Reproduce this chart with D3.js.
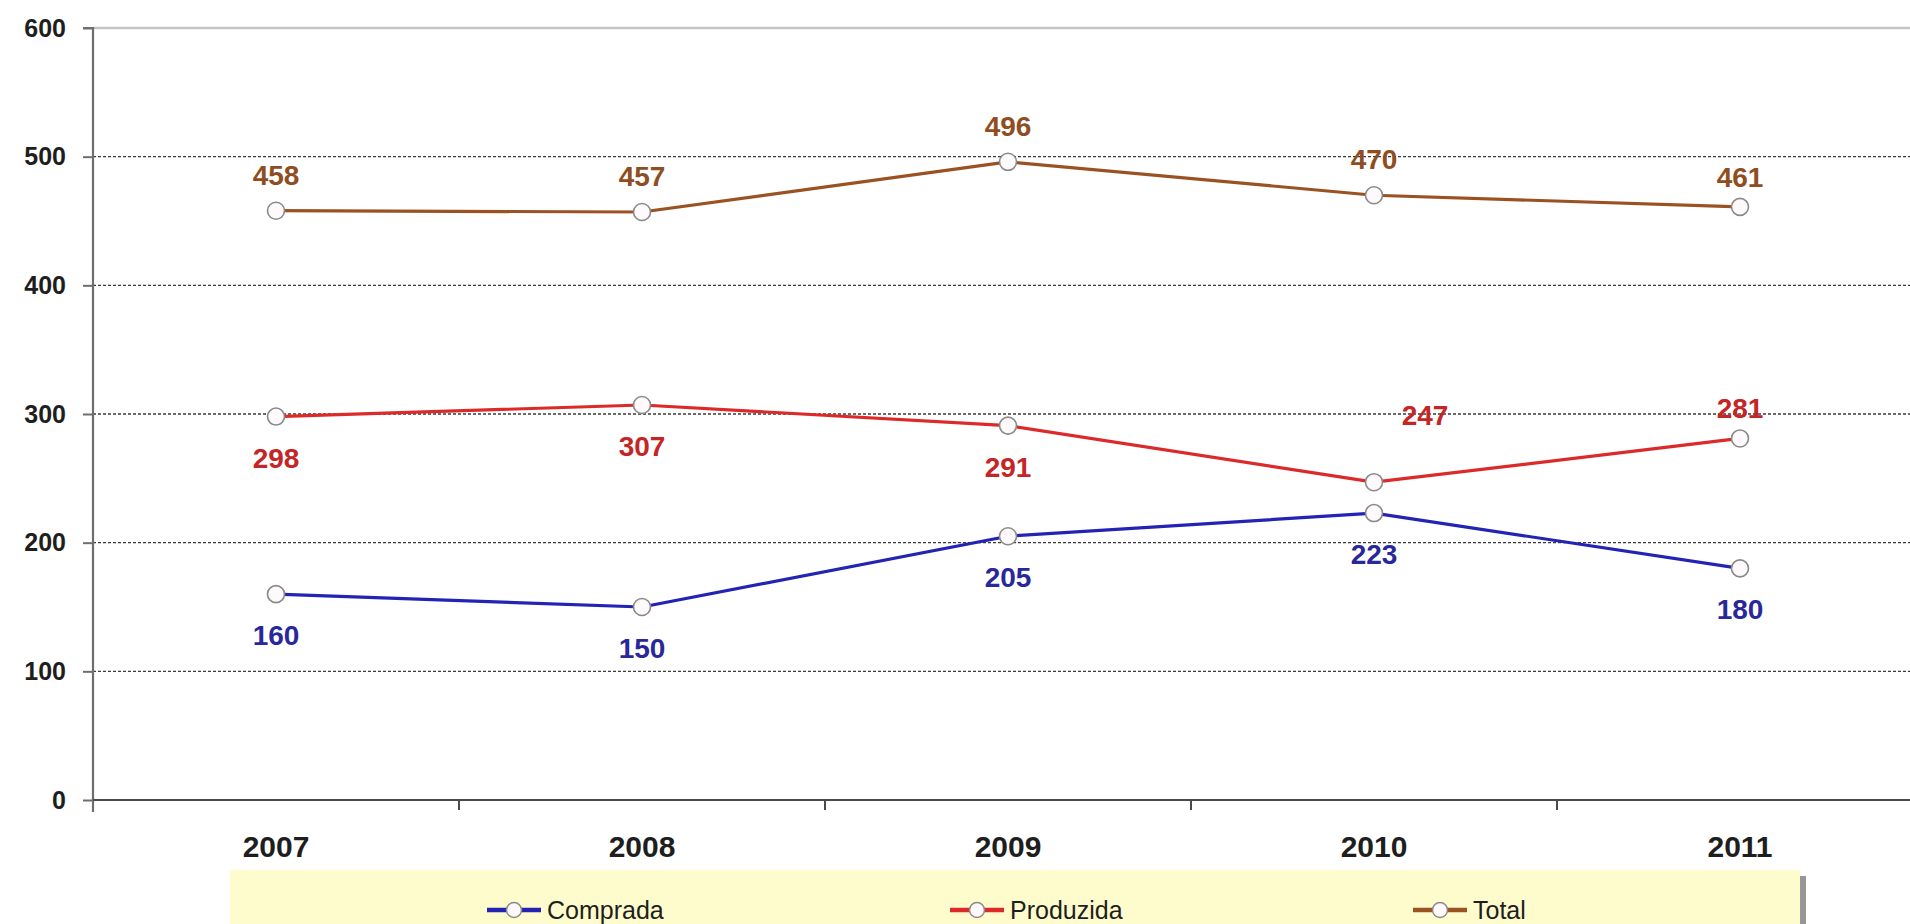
<!DOCTYPE html>
<html>
<head>
<meta charset="utf-8">
<script src="https://cdn.jsdelivr.net/npm/d3@7/dist/d3.min.js"></script>
<style>
  html, body { margin: 0; padding: 0; background: #ffffff; }
  svg { display: block; }
  text { font-family: "Liberation Sans", Arial, sans-serif; }
</style>
</head>
<body>
<svg id="chart" width="1910" height="924"></svg>
<script>
// ---- data ----
const years = ["2007", "2008", "2009", "2010", "2011"];
const comprada = [160, 150, 205, 223, 180];
const produzida = [298, 307, 291, 247, 281];
const total = [458, 457, 496, 470, 461];
const yTicks = [0, 100, 200, 300, 400, 500, 600];
const seriesNames = ["Comprada", "Produzida", "Total"];
// label placement relative to each point
const compradaLabelPos = ["below", "below", "below", "below", "below"];
const produzidaLabelPos = ["below", "below", "below", "aboveRight", "aboveNear"];
const totalLabelPos = ["above", "above", "above", "above", "aboveNear"];

// ---- layout ----
const W = 1910, H = 924;
const plotLeft = 93, plotTop = 28, plotBottom = 800;
const band = 366;

const svg = d3.select("#chart");
svg.append("rect").attr("width", W).attr("height", H).attr("fill", "#ffffff");

const x = d3.scaleBand().domain(years).range([plotLeft, plotLeft + band * years.length]).paddingInner(0).paddingOuter(0);
const y = d3.scaleLinear().domain([0, 600]).range([plotBottom, plotTop]);
const cx = d => x(d) + x.bandwidth() / 2;

// top border
svg.append("line").attr("x1", plotLeft).attr("x2", W).attr("y1", y(600)).attr("y2", y(600))
  .attr("stroke", "#c4c4c4").attr("stroke-width", 2.5);

// gridlines
svg.append("g").selectAll("line").data(yTicks.filter(v => v > 0 && v < 600)).join("line")
  .attr("x1", plotLeft).attr("x2", W).attr("y1", d => y(d)).attr("y2", d => y(d))
  .attr("stroke", "#3a3a3a").attr("stroke-width", 1.4).attr("stroke-dasharray", "3,2");

// y axis
const yAxis = d3.axisLeft(y).tickValues(yTicks).tickSize(10).tickPadding(17).tickFormat(d3.format("d"));
const gy = svg.append("g").attr("transform", `translate(${plotLeft},0)`).call(yAxis);
gy.select(".domain").attr("stroke", "#6e6e6e").attr("stroke-width", 2.2).attr("d", `M-10,${plotTop}H0V${plotBottom + 12}`);
gy.selectAll(".tick line").attr("stroke", "#6e6e6e").attr("stroke-width", 2);
gy.selectAll(".tick text").attr("fill", "#1e1e1e").attr("font-size", 25).attr("font-weight", "bold")
  .attr("font-family", "'Liberation Sans', Arial, sans-serif");

// x axis
const xAxis = d3.axisBottom(x).tickSize(0).tickPadding(0);
const gx = svg.append("g").attr("transform", `translate(0,${plotBottom})`).call(xAxis);
gx.select(".domain").attr("stroke", "#4a4a4a").attr("stroke-width", 2.2).attr("d", `M${plotLeft},0H${W}`);
gx.selectAll(".tick line").remove();
gx.selectAll(".tick text").attr("fill", "#1e1e1e").attr("font-size", 30).attr("font-weight", "bold")
  .attr("y", 57).attr("dy", 0)
  .attr("font-family", "'Liberation Sans', Arial, sans-serif");
// category boundary tick marks
svg.append("g").selectAll("line").data(years.slice(1)).join("line")
  .attr("x1", d => x(d)).attr("x2", d => x(d)).attr("y1", plotBottom).attr("y2", plotBottom + 10)
  .attr("stroke", "#4a4a4a").attr("stroke-width", 2);

// ---- series ----
const series = [
  { name: "Comprada", values: comprada, color: "#2323b4", label: "#28289a", pos: compradaLabelPos },
  { name: "Produzida", values: produzida, color: "#dc2a2a", label: "#c42626", pos: produzidaLabelPos },
  { name: "Total", values: total, color: "#9a5222", label: "#8e4e22", pos: totalLabelPos }
];

const line = d3.line().x((d, i) => cx(years[i])).y(d => y(d));

series.forEach(s => {
  svg.append("path").datum(s.values).attr("d", line)
    .attr("fill", "none").attr("stroke", s.color).attr("stroke-width", 3.2).attr("stroke-linejoin", "round");
});
series.forEach(s => {
  svg.append("g").selectAll("circle").data(s.values).join("circle")
    .attr("cx", (d, i) => cx(years[i])).attr("cy", d => y(d)).attr("r", 8.5)
    .attr("fill", "#fefafc").attr("stroke", "#8a8a8a").attr("stroke-width", 1.6);
});

const offsets = {
  below: [0, 41],
  above: [0, -36],
  aboveNear: [0, -30],
  aboveRight: [51, -67]
};
series.forEach(s => {
  svg.append("g").selectAll("text").data(s.values).join("text")
    .attr("x", (d, i) => cx(years[i]) + offsets[s.pos[i]][0])
    .attr("y", (d, i) => y(d) + offsets[s.pos[i]][1] + 10)
    .attr("text-anchor", "middle")
    .attr("font-size", 28).attr("font-weight", "bold")
    .attr("fill", s.label)
    .text(d => d);
});

// ---- legend ----
const lg = svg.append("g");
lg.append("rect").attr("x", 236).attr("y", 876).attr("width", 1570).attr("height", 60).attr("fill", "#6a6a6a").attr("opacity", 0.7);
lg.append("rect").attr("x", 230).attr("y", 870).attr("width", 1570).attr("height", 60).attr("fill", "#fefccc");
const legendX = d3.scalePoint().domain(seriesNames).range([514, 1440]);
const item = lg.selectAll("g.item").data(series).join("g").attr("class", "item")
  .attr("transform", d => `translate(${legendX(d.name)},910)`);
item.append("line").attr("x1", -27).attr("x2", 27).attr("y1", 0).attr("y2", 0)
  .attr("stroke", d => d.color).attr("stroke-width", 4.5);
item.append("circle").attr("r", 7.5).attr("fill", "#fefafc").attr("stroke", "#8a8a8a").attr("stroke-width", 1.5);
item.append("text").attr("x", 33).attr("y", 9).attr("font-size", 25).attr("fill", "#1e1e1e")
  .text(d => d.name);
</script>
</body>
</html>
